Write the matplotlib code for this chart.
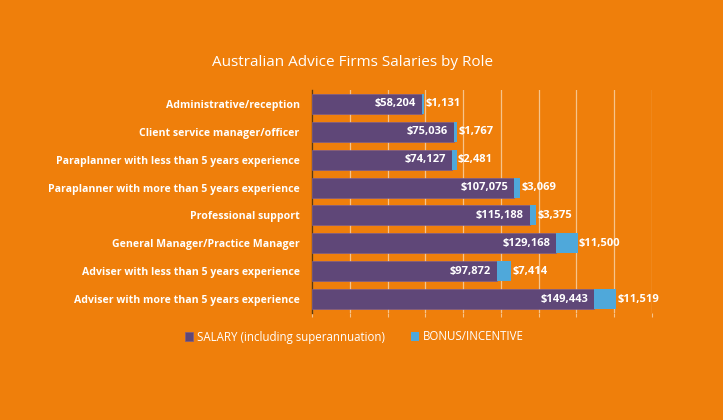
import matplotlib.pyplot as plt
import numpy as np

roles = ['Administrative/reception', 'Client service manager/officer',
         'Paraplanner with less than 5 years experience',
         'Paraplanner with more than 5 years experience', 'Professional support',
         'General Manager/Practice Manager', 'Adviser with less than 5 years experience',
         'Adviser with more than 5 years experience']
salary = [58204, 75036, 74127, 107075, 115188, 129168, 97872, 149443]
bonus = [1131, 1767, 2481, 3069, 3375, 11500, 7414, 11519]

bg = '#EF7F0B'
purple = '#5F4778'
blue = '#4FA8DA'
plt.rcParams['font.family'] = ['Open Sans', 'DejaVu Sans']

fig = plt.figure(figsize=(7.23, 4.2), dpi=100, facecolor=bg)
ax = fig.add_axes([312 / 723, 1 - 313 / 420, 340 / 723, 223 / 420])
ax.set_facecolor(bg)

y = np.arange(len(roles))
ax.barh(y, salary, height=0.72, color=purple, edgecolor='#7a5f90', linewidth=0.5, zorder=3,
        label='SALARY (including superannuation)')
ax.barh(y, bonus, left=salary, height=0.72, color=blue, zorder=3, label='BONUS/INCENTIVE')

for i in range(len(roles)):
    ax.text(salary[i] - 3000, y[i], '${:,}'.format(salary[i]), ha='right', va='center',
            color='white', fontsize=8, fontweight='bold', zorder=4)
    ax.text(salary[i] + bonus[i] + 700, y[i], '${:,}'.format(bonus[i]), ha='left', va='center',
            color='white', fontsize=8, fontweight='bold', zorder=4)

ax.set_xlim(0, 180000)
ax.set_ylim(len(roles) - 0.5, -0.5)
ax.set_xticks(np.arange(0, 180001, 20000))
ax.set_xticklabels([])
ax.tick_params(axis='x', length=3, color='#f6c48c', width=0.8)
ax.tick_params(axis='y', length=0, pad=9)
ax.set_yticks(y)
ax.set_yticklabels(roles, fontsize=7.6, fontweight='bold', color='white')
ax.grid(axis='x', color='#f6c48c', linewidth=0.9, zorder=1)
for s in ['top', 'right', 'bottom']:
    ax.spines[s].set_visible(False)
ax.spines['left'].set_color('#5a3a10')
ax.spines['left'].set_linewidth(1)

fig.text(0.488, 1 - 62 / 420, 'Australian Advice Firms Salaries by Role', ha='center', va='center',
         color='white', fontsize=11)

fig.legend(loc='center', bbox_to_anchor=(0.49, 1 - 337 / 420), ncol=2, frameon=False,
           fontsize=8.3, labelcolor='white', handlelength=0.7, handleheight=0.9,
           handletextpad=0.3, columnspacing=2.3)

fig.savefig('out.png', dpi=100, facecolor=bg)
